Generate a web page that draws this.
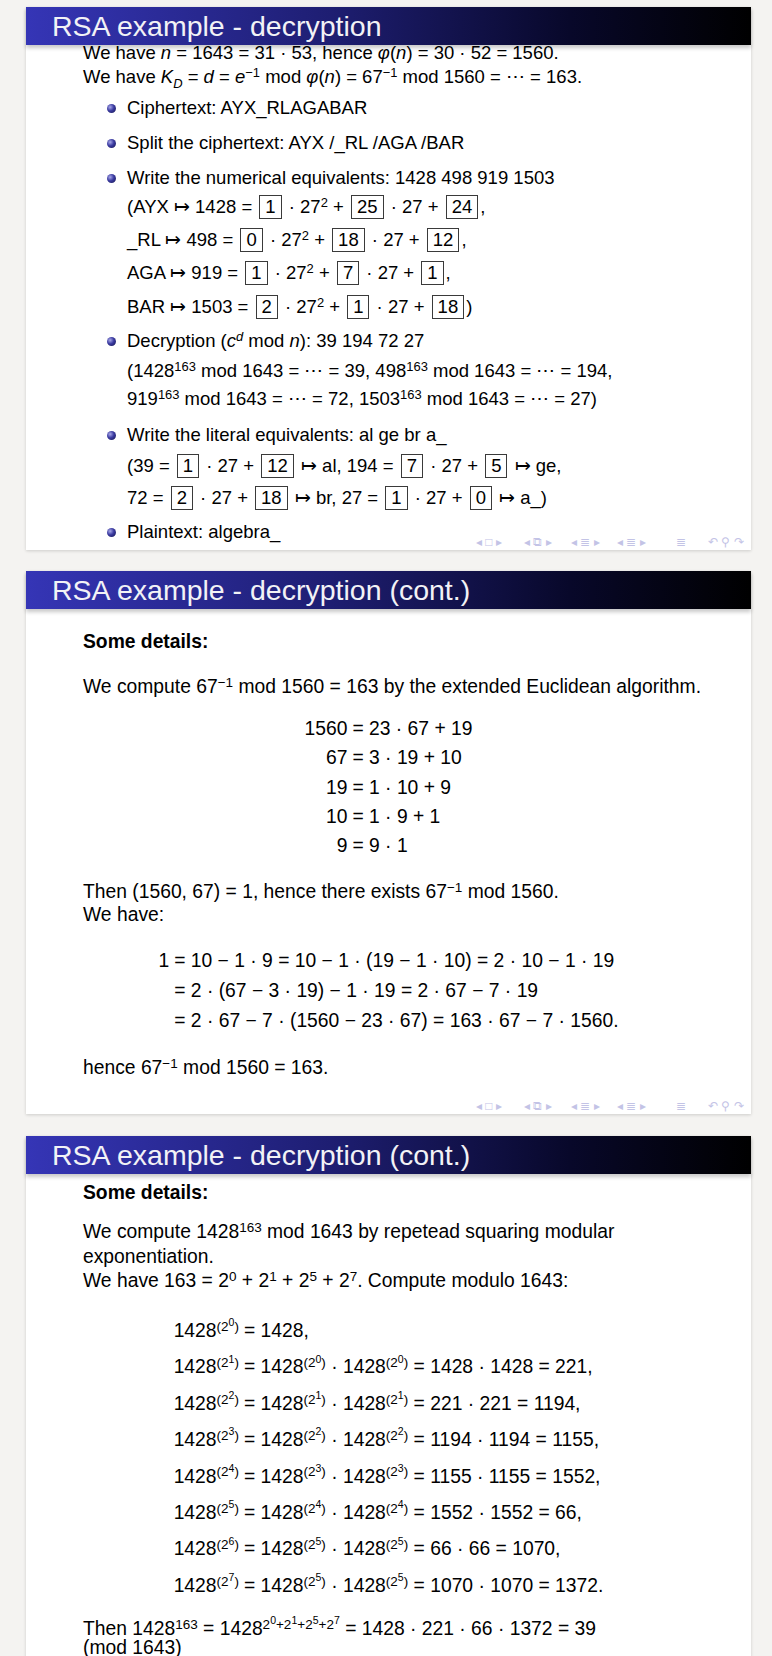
<!DOCTYPE html>
<html>
<head>
<meta charset="utf-8">
<script src="https://cdn.jsdelivr.net/npm/chart.js@4.4.1/dist/chart.umd.min.js"></script>
<style>
html, body { margin: 0; padding: 0; }
body {
  width: 772px; height: 1656px; overflow: hidden; position: relative;
  background: #f4f3f1; color: #000;
  font-family: "Liberation Sans", Arial, sans-serif; font-size: 18.5px;
}
.slide { position: absolute; left: 26px; width: 725px; background: #fff; box-shadow: 0 1px 3px rgba(0,0,0,.16); }
.slide.big { font-size: 19.3px; }
.title {
  position: absolute; left: 0; top: 0; width: 100%; height: 38px;
  background: linear-gradient(to right, #3535b6 0%, #1e1e72 42%, #08082a 75%, #000 100%);
  color: #f2f2f6; font-size: 28.5px; line-height: 38px;
  box-shadow: 0 3px 4px rgba(0,0,0,.22);
}
.title span { position: absolute; left: 26px; top: 0; }
.ln { position: absolute; white-space: nowrap; height: 24px; line-height: 24px; }
.ball {
  position: absolute; width: 9px; height: 9px; border-radius: 50%;
  background: radial-gradient(circle at 35% 35%, #a8a8e8 0%, #3a3aa0 45%, #14144a 100%);
}
.bx { display: inline-block; border: 1.3px solid #3a3a3a; padding: 0 5px; line-height: 22px; margin: 0 2px; }
sup { font-size: 0.7em; line-height: 0; position: relative; top: -0.45em; vertical-align: baseline; }
sup sup { font-size: 0.78em; }
b { font-weight: bold; }
.eq { position: absolute; left: 0; width: 100%; text-align: center; }
.eq table { display: inline-table; border-collapse: collapse; }
.eq td { padding: 0; white-space: nowrap; }
.eq td.l { text-align: right; padding-right: 5px; }
.eq td.r { text-align: left; }
.nav { position: absolute; height: 13px; line-height: 13px; font-size: 12px; color: #c3c3e6; white-space: nowrap; }
</style>
</head>
<body>
<script>
// values
const cipherText = 'AYX_RLAGABAR';
const blocks = ['AYX', '_RL', 'AGA', 'BAR'];
const blockValues = [1428, 498, 919, 1503];
const blockDigits = [[1, 25, 24], [0, 18, 12], [1, 7, 1], [2, 1, 18]];
const decrypted = [39, 194, 72, 27];
const plainDigits = [[1, 12], [7, 5], [2, 18], [1, 0]];
const plainPairs = ['al', 'ge', 'br', 'a_'];
const euclidRows = [[1560, 23, 67, 19], [67, 3, 19, 10], [19, 1, 10, 9], [10, 1, 9, 1], [9, 9, 1, null]];
const backSubLeft = ['1', '', ''];
const backSubRight = [
  '= 10 − 1 · 9 = 10 − 1 · (19 − 1 · 10) = 2 · 10 − 1 · 19',
  '= 2 · (67 − 3 · 19) − 1 · 19 = 2 · 67 − 7 · 19',
  '= 2 · 67 − 7 · (1560 − 23 · 67) = 163 · 67 − 7 · 1560.'
];
const squareExp = [0, 1, 2, 3, 4, 5, 6, 7];
const squarePrev = [null, 0, 1, 2, 3, 4, 5, 5];
const squareBase = [null, 1428, 221, 1194, 1155, 1552, 66, 1070];
const squareResult = [1428, 221, 1194, 1155, 1552, 66, 1070, 1372];
const binaryExps = [0, 1, 5, 7];
const productFactors = [1428, 221, 66, 1372];
const finalResult = 39;

const box = v => '<span class="bx">' + v + '</span>';
const pw = (b, e) => b + '<sup>' + e + '</sup>';
const dots = '⋯';

function slide(top, height, title, cls) {
  const s = document.createElement('div');
  s.className = 'slide' + (cls ? ' ' + cls : '');
  s.style.top = top + 'px';
  s.style.height = height + 'px';
  s.dataset.top = top;
  s.innerHTML = '<div class="title"><span>' + title + '</span></div>';
  document.body.appendChild(s);
  return s;
}
// y is the page y of the line centre, x the page x of its left edge
function line(s, y, x, html, lh) {
  const d = document.createElement('div');
  d.className = 'ln';
  lh = lh || 24;
  d.style.height = lh + 'px';
  d.style.lineHeight = lh + 'px';
  d.style.top = (y - s.dataset.top - lh / 2) + 'px';
  d.style.left = (x - 26) + 'px';
  d.innerHTML = html;
  s.appendChild(d);
}
function bullet(s, y, html) {
  const b = document.createElement('div');
  b.className = 'ball';
  b.style.top = (y - s.dataset.top - 4.5) + 'px';
  b.style.left = (111 - 26 - 4.5) + 'px';
  s.appendChild(b);
  line(s, y, 127, html);
}
function eqTable(s, y, rowH, left, right) {
  const d = document.createElement('div');
  d.className = 'eq';
  d.style.top = (y - s.dataset.top - rowH / 2) + 'px';
  let h = '<table>';
  left.forEach((l, i) => {
    h += '<tr style="height:' + rowH + 'px"><td class="l">' + l + '</td><td class="r">' + right[i] + '</td></tr>';
  });
  d.innerHTML = h + '</table>';
  s.appendChild(d);
}
function nav(s) {
  const groups = [[476, '◂ □ ▸'], [524, '◂ ⧉ ▸'], [571, '◂ ≣ ▸'], [617, '◂ ≣ ▸'], [676, '≣'], [708, '↶ ⚲ ↷']];
  const h = parseFloat(s.style.height);
  groups.forEach(g => {
    const d = document.createElement('div');
    d.className = 'nav';
    d.style.left = (g[0] - 26) + 'px';
    d.style.top = (h - 14) + 'px';
    d.textContent = g[1];
    s.appendChild(d);
  });
}

// slide 1
const s1 = slide(7, 543, 'RSA example - decryption');
line(s1, 53, 83, 'We have <i>n</i> = 1643 = 31 · 53, hence <i>φ</i>(<i>n</i>) = 30 · 52 = 1560.');
line(s1, 77, 83, 'We have <i>K<sub style="font-size:.7em">D</sub></i> = <i>d</i> = <i>e</i><sup>−1</sup> mod <i>φ</i>(<i>n</i>) = 67<sup>−1</sup> mod 1560 = ' + dots + ' = 163.');
bullet(s1, 108, 'Ciphertext: ' + cipherText);
bullet(s1, 143, 'Split the ciphertext: ' + blocks.join(' /'));
bullet(s1, 178, 'Write the numerical equivalents: ' + blockValues.join(' '));
const numY = [207, 240, 273, 307];
blocks.forEach((b, i) => {
  const d = blockDigits[i];
  let t = (i === 0 ? '(' : '') + b + ' ↦ ' + blockValues[i] + ' = ' + box(d[0]) + ' · ' + pw(27, 2) + ' + ' + box(d[1]) + ' · 27 + ' + box(d[2]);
  t += i === blocks.length - 1 ? ')' : ',';
  line(s1, numY[i], 127, t);
});
bullet(s1, 341, 'Decryption (' + pw('<i>c</i>', '<i>d</i>') + ' mod <i>n</i>): ' + decrypted.join(' '));
const dec = blockValues.map((v, i) => pw(v, 163) + ' mod 1643 = ' + dots + ' = ' + decrypted[i]);
line(s1, 371, 127, '(' + dec[0] + ', ' + dec[1] + ',');
line(s1, 399, 127, dec[2] + ', ' + dec[3] + ')');
bullet(s1, 435, 'Write the literal equivalents: ' + plainPairs.join(' '));
const lit = decrypted.map((v, i) => v + ' = ' + box(plainDigits[i][0]) + ' · 27 + ' + box(plainDigits[i][1]) + ' ↦ ' + plainPairs[i]);
line(s1, 466, 127, '(' + lit[0] + ', ' + lit[1] + ',');
line(s1, 498, 127, lit[2] + ', ' + lit[3] + ')');
bullet(s1, 532, 'Plaintext: ' + plainPairs.join('').replace('_', '') + '_');
nav(s1);

// slide 2
const s2 = slide(571, 543, 'RSA example - decryption (cont.)', 'big');
line(s2, 642, 83, '<b>Some details:</b>');
line(s2, 687, 83, 'We compute ' + pw(67, '−1') + ' mod 1560 = 163 by the extended Euclidean algorithm.');
eqTable(s2, 729, 29.3,
  euclidRows.map(r => r[0]),
  euclidRows.map(r => '= ' + r[1] + ' · ' + r[2] + (r[3] === null ? '' : ' + ' + r[3])));
line(s2, 892, 83, 'Then (1560, 67) = 1, hence there exists ' + pw(67, '−1') + ' mod 1560.');
line(s2, 915, 83, 'We have:');
eqTable(s2, 961, 30, backSubLeft, backSubRight);
line(s2, 1068, 83, 'hence ' + pw(67, '−1') + ' mod 1560 = 163.');
nav(s2);

// slide 3
const s3 = slide(1136, 560, 'RSA example - decryption (cont.)', 'big');
line(s3, 1193, 83, '<b>Some details:</b>');
line(s3, 1232, 83, 'We compute ' + pw(1428, 163) + ' mod 1643 by repetead squaring modular');
line(s3, 1257, 83, 'exponentiation.');
line(s3, 1281, 83, 'We have 163 = ' + binaryExps.map(e => pw(2, e)).join(' + ') + '. Compute modulo 1643:');
const p2 = k => pw(1428, '(' + pw(2, k) + ')');
eqTable(s3, 1331, 36.4,
  squareExp.map(k => p2(k)),
  squareExp.map((k, i) => {
    const end = i === squareExp.length - 1 ? '.' : ',';
    if (squarePrev[i] === null) return '= ' + squareResult[i] + end;
    return '= ' + p2(squarePrev[i]) + ' · ' + p2(squarePrev[i]) + ' = ' + squareBase[i] + ' · ' + squareBase[i] + ' = ' + squareResult[i] + end;
  }));
line(s3, 1629, 83, 'Then ' + pw(1428, 163) + ' = ' + pw(1428, binaryExps.map(e => pw(2, e)).join('+')) + ' = ' + productFactors.join(' · ') + ' = ' + finalResult, 18);
line(s3, 1647, 83, '(mod 1643)', 17);
</script>
</body>
</html>
